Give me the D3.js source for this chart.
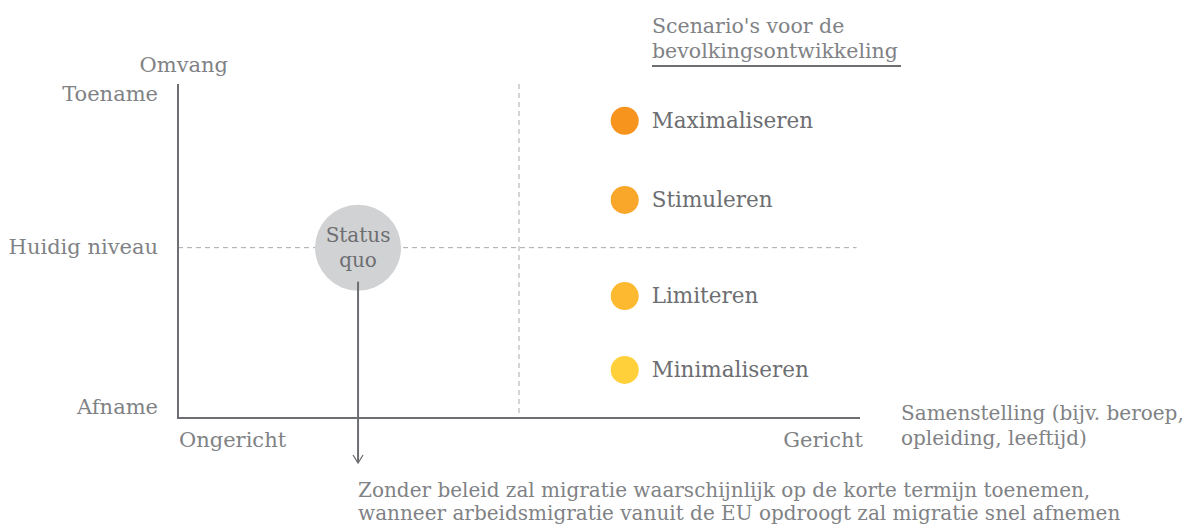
<!DOCTYPE html>
<html>
<head>
<meta charset="utf-8">
<script src="https://cdn.jsdelivr.net/npm/d3@7"></script>
<style>
  body { margin: 0; background: #fff; }
  .light { font-family: "DejaVu Serif", serif; font-weight: 300; fill: #808285; }
  .label { font-family: "DejaVu Serif", serif; fill: #6d6e71; }
</style>
</head>
<body>
<div id="chart"></div>
<script>
// Chart data
const scenarios = ["Maximaliseren", "Stimuleren", "Limiteren", "Minimaliseren"];
const scenarioColors = ["#f7941e", "#f9a72a", "#fdb930", "#ffd03a"];
const scenarioOmvang = [0.89, 0.653, 0.365, 0.144];
const scenarioSamenstelling = [0.655, 0.655, 0.655, 0.655];
const yTicks = [0, 0.51, 1];
const yTickLabels = ["Afname", "Huidig niveau", "Toename"];
const xTicks = [0, 1];
const xTickLabels = ["Ongericht", "Gericht"];
const statusQuo = {x: 0.264, y: 0.51, label: ["Status", "quo"]};
const legendTitle = ["Scenario's voor de", "bevolkingsontwikkeling"];
const xTitle = ["Samenstelling (bijv. beroep,", "opleiding, leeftijd)"];
const note = ["Zonder beleid zal migratie waarschijnlijk op de korte termijn toenemen,",
              "wanneer arbeidsmigratie vanuit de EU opdroogt zal migratie snel afnemen"];

const width = 1186, height = 524;
const margin = {top: 84, right: 326, bottom: 106, left: 178};

const svg = d3.select("#chart").append("svg")
  .attr("width", width)
  .attr("height", height);

const x = d3.scaleLinear().domain([0, 1]).range([margin.left, width - margin.right]);
const y = d3.scaleLinear().domain([0, 1]).range([height - margin.bottom, margin.top]);

// dashed quadrant lines
svg.append("line")
  .attr("x1", x(0)).attr("x2", x(0.995))
  .attr("y1", y(statusQuo.y)).attr("y2", y(statusQuo.y))
  .attr("stroke", "#a7a9ac").attr("stroke-width", 1)
  .attr("stroke-dasharray", "5,4");
svg.append("line")
  .attr("x1", x(0.5)).attr("x2", x(0.5))
  .attr("y1", y(1)).attr("y2", y(0))
  .attr("stroke", "#a7a9ac").attr("stroke-width", 1)
  .attr("stroke-dasharray", "5,4");

// axes
svg.append("path")
  .attr("d", `M${x(0)},${y(1)}V${y(0)}H${x(1)}`)
  .attr("fill", "none")
  .attr("stroke", "#6d6e71")
  .attr("stroke-width", 2);

// y labels
svg.append("text").attr("class", "light")
  .attr("x", 228).attr("y", 72)
  .attr("text-anchor", "end").attr("font-size", 21)
  .text("Omvang");
svg.selectAll(".ytick").data(yTicks).enter().append("text")
  .attr("class", "light ytick")
  .attr("x", 158)
  .attr("y", (d) => {return y(d) + (d === 0 ? -4 : d === 1 ? 17 : 6);})
  .attr("text-anchor", "end").attr("font-size", 21)
  .text((d, i) => yTickLabels[i]);

// x labels
svg.selectAll(".xtick").data(xTicks).enter().append("text")
  .attr("class", "light xtick")
  .attr("x", (d) => {return d === 0 ? x(d) + 1 : x(d) + 3;})
  .attr("y", 447)
  .attr("text-anchor", (d) => d === 0 ? "start" : "end")
  .attr("font-size", 21)
  .text((d, i) => xTickLabels[i]);

svg.append("text").attr("class", "light")
  .attr("font-size", 20)
  .selectAll("tspan").data(xTitle).enter().append("tspan")
  .attr("x", 901).attr("y", (d, i) => 420 + i * 25)
  .text((d) => d);

// status quo
svg.append("circle")
  .attr("cx", x(statusQuo.x)).attr("cy", y(statusQuo.y))
  .attr("r", 43)
  .attr("fill", "#d1d2d4");
svg.append("text").attr("class", "label")
  .attr("font-size", 20).attr("text-anchor", "middle")
  .selectAll("tspan").data(statusQuo.label).enter().append("tspan")
  .attr("x", x(statusQuo.x)).attr("y", (d, i) => y(statusQuo.y) - 6 + i * 25)
  .text((d) => d);

// arrow
svg.append("line")
  .attr("x1", x(statusQuo.x)).attr("x2", x(statusQuo.x))
  .attr("y1", y(statusQuo.y) + 34).attr("y2", 463)
  .attr("stroke", "#6d6e71").attr("stroke-width", 2);
svg.append("path")
  .attr("d", `M${x(statusQuo.x) - 5},${455}L${x(statusQuo.x)},${463}L${x(statusQuo.x) + 5},${455}`)
  .attr("fill", "none").attr("stroke", "#6d6e71").attr("stroke-width", 1.3);

svg.append("text").attr("class", "light")
  .attr("font-size", 20)
  .selectAll("tspan").data(note).enter().append("tspan")
  .attr("x", x(statusQuo.x)).attr("y", (d, i) => 497 + i * 23)
  .text((d) => d);

// legend title
svg.append("text").attr("class", "light")
  .attr("font-size", 20.5)
  .selectAll("tspan").data(legendTitle).enter().append("tspan")
  .attr("x", 652).attr("y", (d, i) => 33 + i * 25)
  .text((d) => d);
svg.append("line")
  .attr("x1", 652).attr("x2", 901)
  .attr("y1", 66).attr("y2", 66)
  .attr("stroke", "#6d6e71").attr("stroke-width", 2);

// scenarios
const items = svg.selectAll(".scenario").data(scenarios).enter().append("g")
  .attr("class", "scenario");
items.append("circle")
  .attr("cx", (d, i) => x(scenarioSamenstelling[i]))
  .attr("cy", (d, i) => y(scenarioOmvang[i]))
  .attr("r", 14)
  .attr("fill", (d, i) => scenarioColors[i]);
items.append("text").attr("class", "label")
  .attr("x", (d, i) => x(scenarioSamenstelling[i]) + 27)
  .attr("y", (d, i) => y(scenarioOmvang[i]) + 7)
  .attr("font-size", 21.5)
  .text((d) => d);
</script>
</body>
</html>
